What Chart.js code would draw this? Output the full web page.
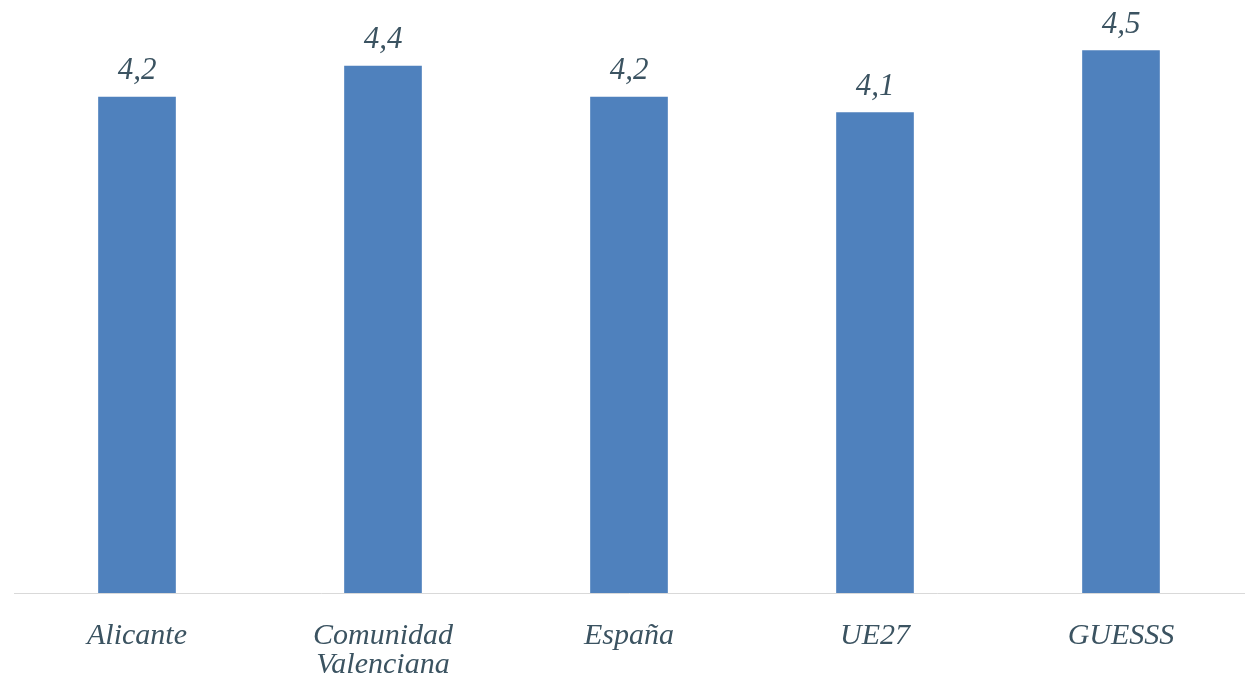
<!DOCTYPE html>
<html>
<head>
<meta charset="utf-8">
<script src="https://cdn.jsdelivr.net/npm/chart.js@4/dist/chart.umd.min.js"></script>
<style>
  html, body { margin: 0; padding: 0; background: #ffffff; }
  #wrap { width: 1247px; height: 684px; position: relative; }
</style>
</head>
<body>
<div id="wrap"><canvas id="c" width="1247" height="684"></canvas></div>
<script>
const categories = ["Alicante", ["Comunidad", "Valenciana"], "España", "UE27", "GUESSS"];
const values = [4.2, 4.4, 4.2, 4.1, 4.5];
const valueLabels = ["4,2", "4,4", "4,2", "4,1", "4,5"];

const textColor = "#3b5361";
const fontFamily = "'Liberation Serif', 'DejaVu Serif', serif";

const valueLabelPlugin = {
  id: "valueLabels",
  afterDatasetsDraw(chart) {
    const ctx = chart.ctx;
    const meta = chart.getDatasetMeta(0);
    ctx.save();
    ctx.font = "italic 31px " + fontFamily;
    ctx.fillStyle = textColor;
    ctx.textAlign = "center";
    ctx.textBaseline = "alphabetic";
    meta.data.forEach((bar, i) => {
      ctx.fillText(valueLabels[i], bar.x, bar.y - 18);
    });
    ctx.restore();
  }
};

new Chart(document.getElementById("c"), {
  type: "bar",
  data: {
    labels: categories,
    datasets: [{
      data: values,
      backgroundColor: "#4f81bd",
      borderWidth: 0,
      barThickness: 77
    }]
  },
  options: {
    responsive: false,
    animation: false,
    layout: { padding: { left: 14, right: 3, top: 4, bottom: 0 } },
    plugins: {
      legend: { display: false },
      tooltip: { enabled: false }
    },
    scales: {
      x: {
        grid: { display: false, drawTicks: false },
        border: { display: true, color: "#d9d9d9", width: 1 },
        ticks: {
          color: textColor,
          padding: 29,
          maxRotation: 0,
          autoSkip: false,
          font: { family: fontFamily, size: 30, style: "italic", lineHeight: 0.967 }
        },
        afterFit(axis) { axis.height = 91; }
      },
      y: {
        display: false,
        min: 1,
        max: 4.8
      }
    }
  },
  plugins: [valueLabelPlugin]
});
</script>
</body>
</html>
